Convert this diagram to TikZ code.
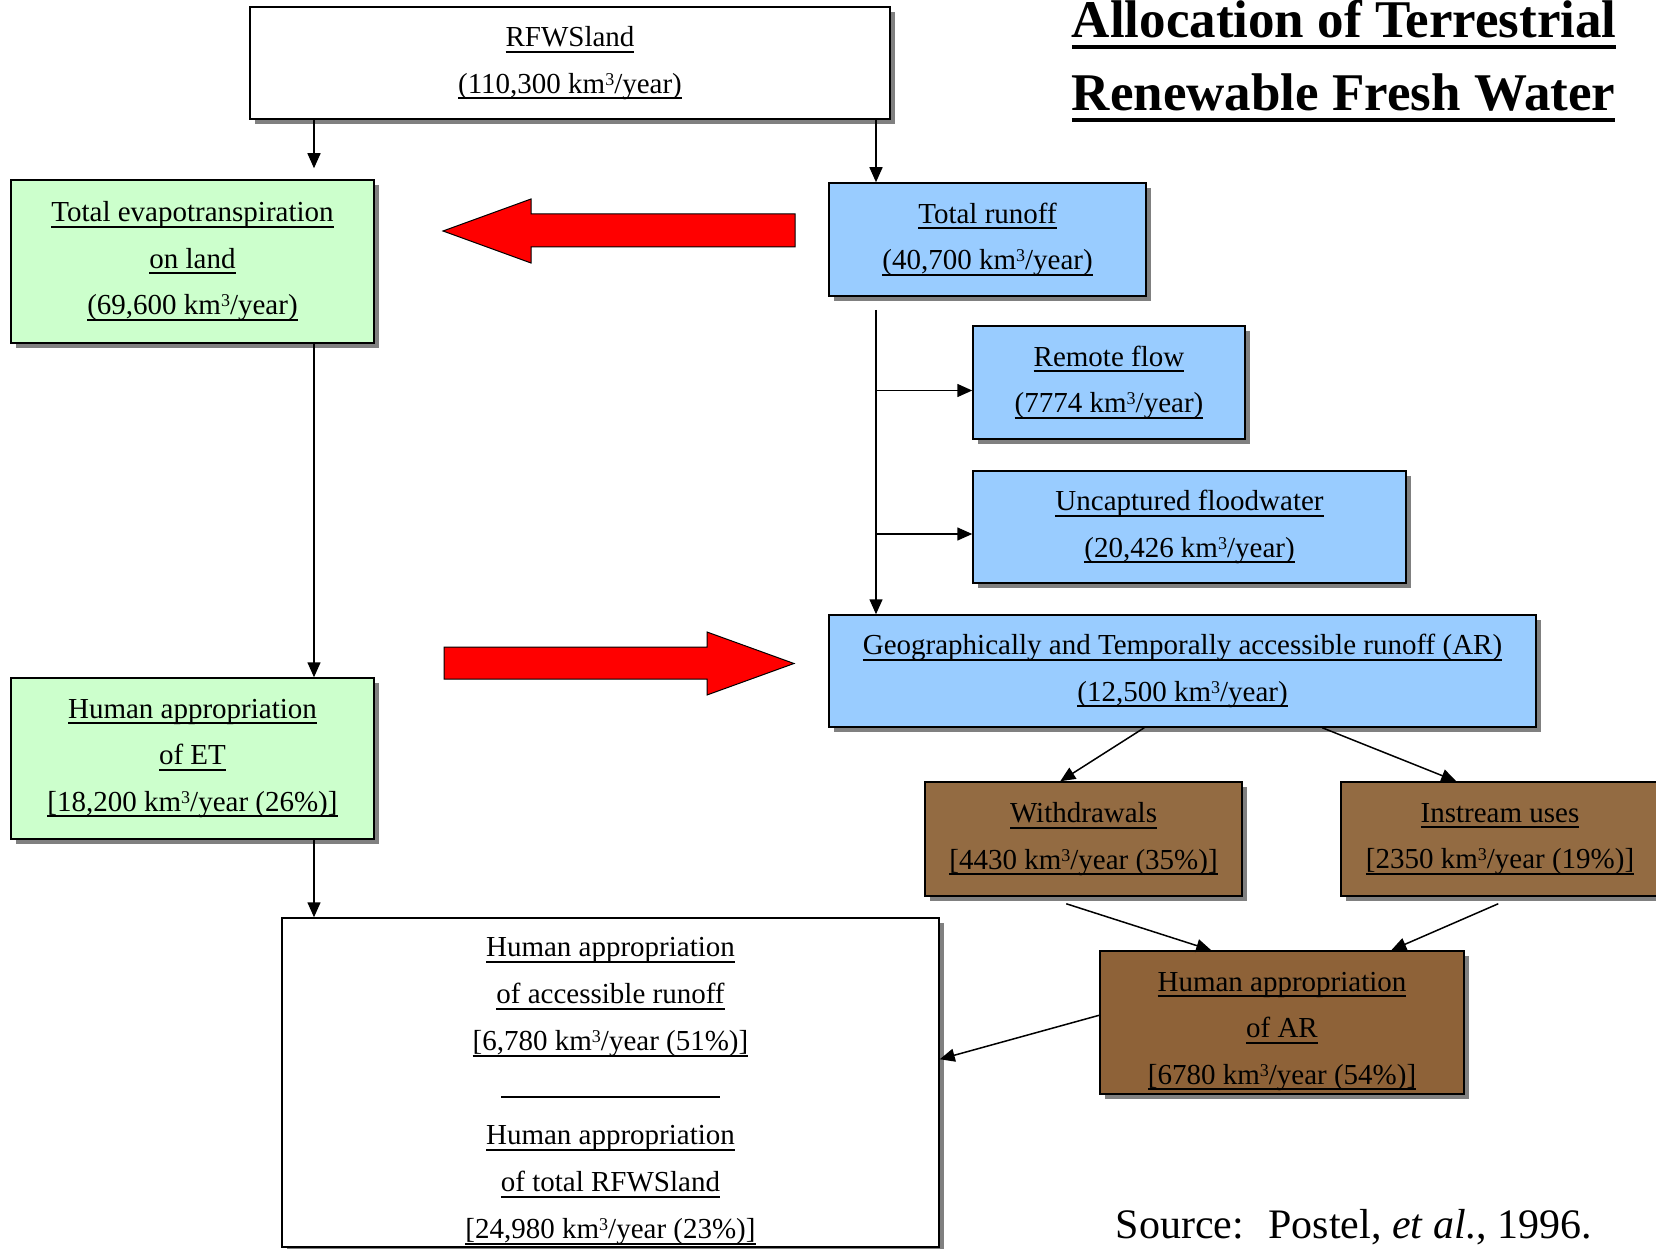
\documentclass[tikz,border=0pt]{standalone}
\usepackage{fontspec}
\setmainfont{Liberation Serif}
\usetikzlibrary{arrows.meta,shadows}

\definecolor{etgreen}{HTML}{CCFFCC}
\definecolor{runblue}{HTML}{99CCFF}
\definecolor{usebrown}{HTML}{936B42}
\definecolor{arbrown}{HTML}{8E6238}
\definecolor{shadowgray}{HTML}{808080}

\newcommand{\undl}[1]{\setbox0\hbox{#1}\rlap{\rule[-6pt]{\wd0}{2pt}}\box0}
\newcommand{\undlbig}[1]{\setbox0\hbox{#1}\rlap{\rule[-11pt]{\wd0}{4pt}}\box0}
\newcommand{\kmy}{km\raisebox{8pt}{\fontsize{18}{18}\selectfont 3}/year}

\tikzset{
  box/.style={draw, line width=1.5pt, inner sep=0pt, align=center,
              font=\fontsize{29}{46.5}\selectfont,
              drop shadow={shadow xshift=5pt, shadow yshift=-5pt, fill=shadowgray, opacity=1}},
  plainbox/.style={box, fill=white},
  etbox/.style={box, fill=etgreen},
  runbox/.style={box, fill=runblue},
  usebox/.style={box, fill=usebrown},
  bigarrow/.style={fill=red, draw=black, line width=1pt},
}

\begin{document}
\begin{tikzpicture}[x=1pt,y=-1pt,line width=1.5pt,>={Triangle[length=15pt,width=13pt]}]
    \useasboundingbox (0,0) rectangle (1656,1249);

    \node[plainbox, minimum width=640pt, minimum height=112pt] (rfw)    at (570,63)
        {\undl{RFWSland}\\\undl{(110,300 \kmy)}};
    \node[etbox,    minimum width=363pt, minimum height=163pt] (et)     at (192.5,261.5)
        {\undl{Total evapotranspiration}\\\undl{on land}\\\undl{(69,600 \kmy)}};
    \node[runbox,   minimum width=317pt, minimum height=113pt] (runoff) at (987.5,239.5)
        {\undl{Total runoff}\\\undl{(40,700 \kmy)}};
    \node[runbox,   minimum width=272pt, minimum height=113pt] (remote) at (1109,382.5)
        {\undl{Remote flow}\\\undl{(7774 \kmy)}};
    \node[runbox,   minimum width=433pt, minimum height=112pt] (flood)  at (1189.5,527)
        {\undl{Uncaptured floodwater}\\\undl{(20,426 \kmy)}};
    \node[runbox,   minimum width=707pt, minimum height=112pt] (ar)     at (1182.5,671)
        {\undl{Geographically and Temporally accessible runoff (AR)}\\\undl{(12,500 \kmy)}};
    \node[etbox,    minimum width=363pt, minimum height=161pt] (hlet)   at (192.5,758.5)
        {\undl{Human appropriation}\\\undl{of ET}\\\undl{[18,200 \kmy{} (26\%)]}};
    \node[usebox,   minimum width=317pt, minimum height=114pt] (wd)     at (1083.5,839)
        {\undl{Withdrawals}\\\undl{[4430 \kmy{} (35\%)]}};
    \node[usebox,   minimum width=318pt, minimum height=114pt] (inst)   at (1500,839)
        {\undl{Instream uses}\\\undl{[2350 \kmy{} (19\%)]}};
    \node[box, fill=arbrown, minimum width=364pt, minimum height=143pt] (har) at (1282,1022.5)
        {\rule{0pt}{37pt}\undl{Human appropriation}\\\undl{of AR}\\\undl{[6780 \kmy{} (54\%)]}};
    \node[plainbox, minimum width=657pt, minimum height=329pt,
          font=\fontsize{29}{47}\selectfont] (big) at (610.5,1082.5)
        {\rule{0pt}{37pt}\undl{Human appropriation}\\\undl{of accessible runoff}\\
         \undl{[6,780 \kmy{} (51\%)]}\\\rule{219pt}{2pt}\\
         \undl{Human appropriation}\\\undl{of total RFWSland}\\\undl{[24,980 \kmy{} (23\%)]}};

    % title and source
    \node[anchor=base west, inner sep=0pt, font=\fontsize{53}{60}\selectfont\bfseries] (title1) at (1071,38)
        {\undlbig{Allocation of Terrestrial}};
    \node[anchor=base west, inner sep=0pt, font=\fontsize{53}{60}\selectfont\bfseries] (title2) at (1071,111)
        {\undlbig{Renewable Fresh Water}};
    \node[anchor=base west, inner sep=0pt, font=\fontsize{42}{50}\selectfont] (source) at (1115,1238)
        {Source:~ Postel, \textit{et al}., 1996.};

    % red block arrows
    \draw[bigarrow] (795,214) -- (531,214) -- (531,199) -- (443,231) -- (531,263) -- (531,247) -- (795,247) -- cycle;
    \draw[bigarrow] (444,647) -- (707,647) -- (707,632) -- (794,663.5) -- (707,695) -- (707,679) -- (444,679) -- cycle;

    \coordinate (lx) at (314,0);
    \coordinate (rx) at (876,0);
    \coordinate (rfin) at ([yshift=-8pt]remote.west);
    \coordinate (ffin) at ([yshift=-7pt]flood.west);

    \path[->]   (rfw.south -| lx)       edge[shorten >=11pt] (et.north -| lx)
                (rfw.south -| rx)       edge (runoff.north -| rx)
                (et.south -| lx)        edge (hlet.north -| lx)
                (hlet.south -| lx)      edge (big.north -| lx)
                (runoff.south -| rx)    edge[shorten <=13pt] (ar.north -| rx)
                (rfin -| rx)            edge (rfin)
                (ffin -| rx)            edge (ffin)
                ([xshift=316pt]ar.south west) edge ([xshift=136pt]wd.north west)
                ([xshift=494pt]ar.south west) edge ([xshift=116pt]inst.north west)
                ([xshift=142pt,yshift=-7pt]wd.south west)   edge ([xshift=112pt]har.north west)
                ([xshift=158pt,yshift=-7pt]inst.south west) edge ([xshift=292pt]har.north west)
                ([yshift=-65pt]har.north west) edge ([yshift=-142pt]big.north east)
                ;
\end{tikzpicture}
\end{document}
